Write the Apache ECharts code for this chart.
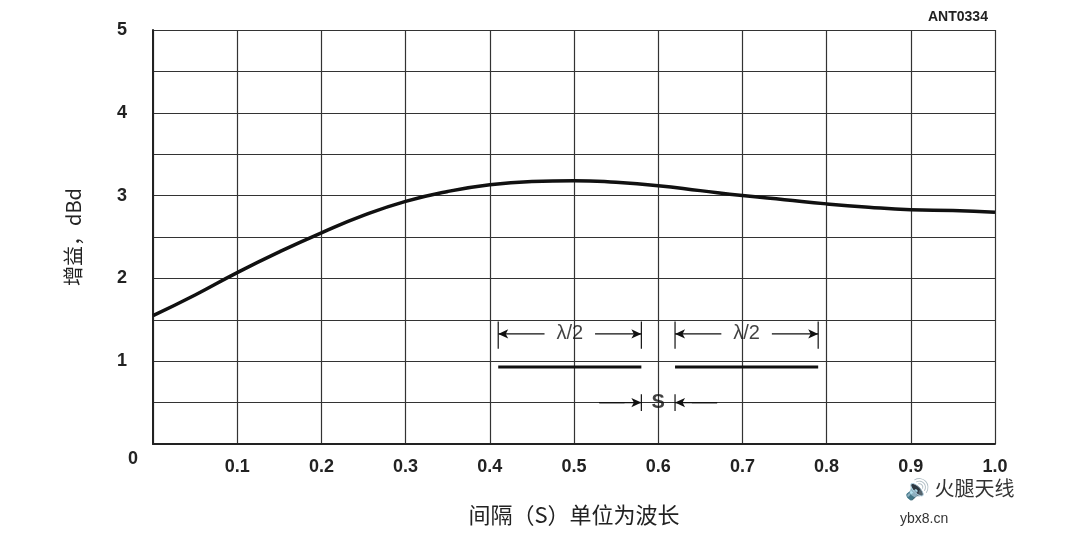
<!DOCTYPE html><html><head><meta charset="utf-8"><script src="https://cdn.jsdelivr.net/npm/echarts@6/dist/echarts.min.js"></script></head><body style="margin:0;background:#fff"><div id="c" style="width:1080px;height:547px"></div><script>
const xs=[0,0.05,0.1,0.15,0.2,0.25,0.3,0.35,0.4,0.45,0.5,0.55,0.6,0.65,0.7,0.75,0.8,0.85,0.9,0.95,1.0];
const gain=[1.55,1.8,2.07,2.32,2.55,2.76,2.93,3.05,3.13,3.17,3.18,3.16,3.12,3.06,3.0,2.95,2.9,2.86,2.83,2.82,2.8];
const xTicks=['0','0.1','0.2','0.3','0.4','0.5','0.6','0.7','0.8','0.9','1.0'];
const yTicks=['0','1','2','3','4','5'];
const el1=[[0.41,0.93],[0.58,0.93]], el2=[[0.62,0.93],[0.79,0.93]];
const dimY=1.33, sY=0.5;
const ticks=[0.41,0.58,0.62,0.79];
const ch=echarts.init(document.getElementById('c'));
const F='"Liberation Sans",Arial,sans-serif';
const ln=(d,w,extra)=>Object.assign({type:'line',data:d,symbol:'none',lineStyle:{color:'#111',width:w},itemStyle:{color:'#111'},silent:true,z:3},extra||{});
const arrow=(a,b)=>ln([{value:a,symbol:'none'},{value:b,symbol:'arrow',symbolSize:[7,10],symbolRotate:b[0]<a[0]?90:-90}],1.2,{showSymbol:true});
const series=[ln(xs.map((x,i)=>[x,gain[i]]),3.5,{smooth:true}),
 ln(el1,3),ln(el2,3),
 arrow([0.465,dimY],[0.41,dimY]),arrow([0.525,dimY],[0.58,dimY]),
 arrow([0.675,dimY],[0.62,dimY]),arrow([0.735,dimY],[0.79,dimY]),
 arrow([0.53,sY],[0.58,sY]),arrow([0.67,sY],[0.62,sY]),
 ln([[0.58,sY+0.1],[0.58,sY-0.1]],1.2),ln([[0.62,sY+0.1],[0.62,sY-0.1]],1.2),
 ln([[0.56,sY],[0.53,sY]],1.2),ln([[0.64,sY],[0.67,sY]],1.2)];
ticks.forEach(t=>series.push(ln([[t,dimY+0.15],[t,dimY-0.18]],1.2)));
series.push({type:'scatter',symbolSize:0,data:[[0.495,dimY],[0.705,dimY],[0.6,sY]].map((p,i)=>({value:p,label:{show:true,position:'inside',formatter:i<2?'λ/2':'S',fontSize:20,fontFamily:F,color:'#111',fontWeight:i<2?'normal':'bold'}})),silent:true,z:5});
ch.setOption({animation:false,
 grid:{left:153,right:85,top:30,bottom:103},
 xAxis:{type:'value',min:0,max:1,interval:0.1,axisLine:{lineStyle:{color:'#222',width:2}},axisTick:{show:false},
  splitLine:{show:true,lineStyle:{color:'#333',width:1.2}},
  axisLabel:{formatter:v=>xTicks[Math.round(v*10)],fontSize:18,fontWeight:'bold',color:'#222',fontFamily:F,margin:14,showMinLabel:false},
  name:'间隔（S）单位为波长',nameLocation:'middle',nameGap:60,nameTextStyle:{fontSize:22,color:'#222',fontFamily:'"Noto Sans CJK SC"'}},
 yAxis:{type:'value',min:0,max:5,interval:0.5,axisLine:{show:true,lineStyle:{color:'#222',width:2}},axisTick:{show:false},
  splitLine:{lineStyle:{color:'#333',width:1.2}},
  axisLabel:{formatter:v=>Number.isInteger(v)&&v>0?yTicks[v]:'',fontSize:18,fontWeight:'bold',color:'#222',fontFamily:F,margin:26},
  name:'增益，dBd',nameLocation:'middle',nameGap:70,nameTextStyle:{fontSize:20,color:'#222',fontFamily:'"Noto Sans CJK SC"'}},
 graphic:[{type:'text',left:928,top:10,style:{text:'ANT0334',fontSize:14,fontWeight:'bold',fill:'#222',fontFamily:F}},
  {type:'text',left:128,top:450,style:{text:'0',fontSize:18,fontWeight:'bold',fill:'#222',fontFamily:F}},
  {type:'text',left:905,top:478,style:{text:'🔊 火腿天线',fontSize:20,fill:'#333',fontFamily:'"Noto Sans CJK SC"'}},
  {type:'text',left:900,top:512,style:{text:'ybx8.cn',fontSize:14,fill:'#333',fontFamily:F}}],
 series});
</script></body></html>
